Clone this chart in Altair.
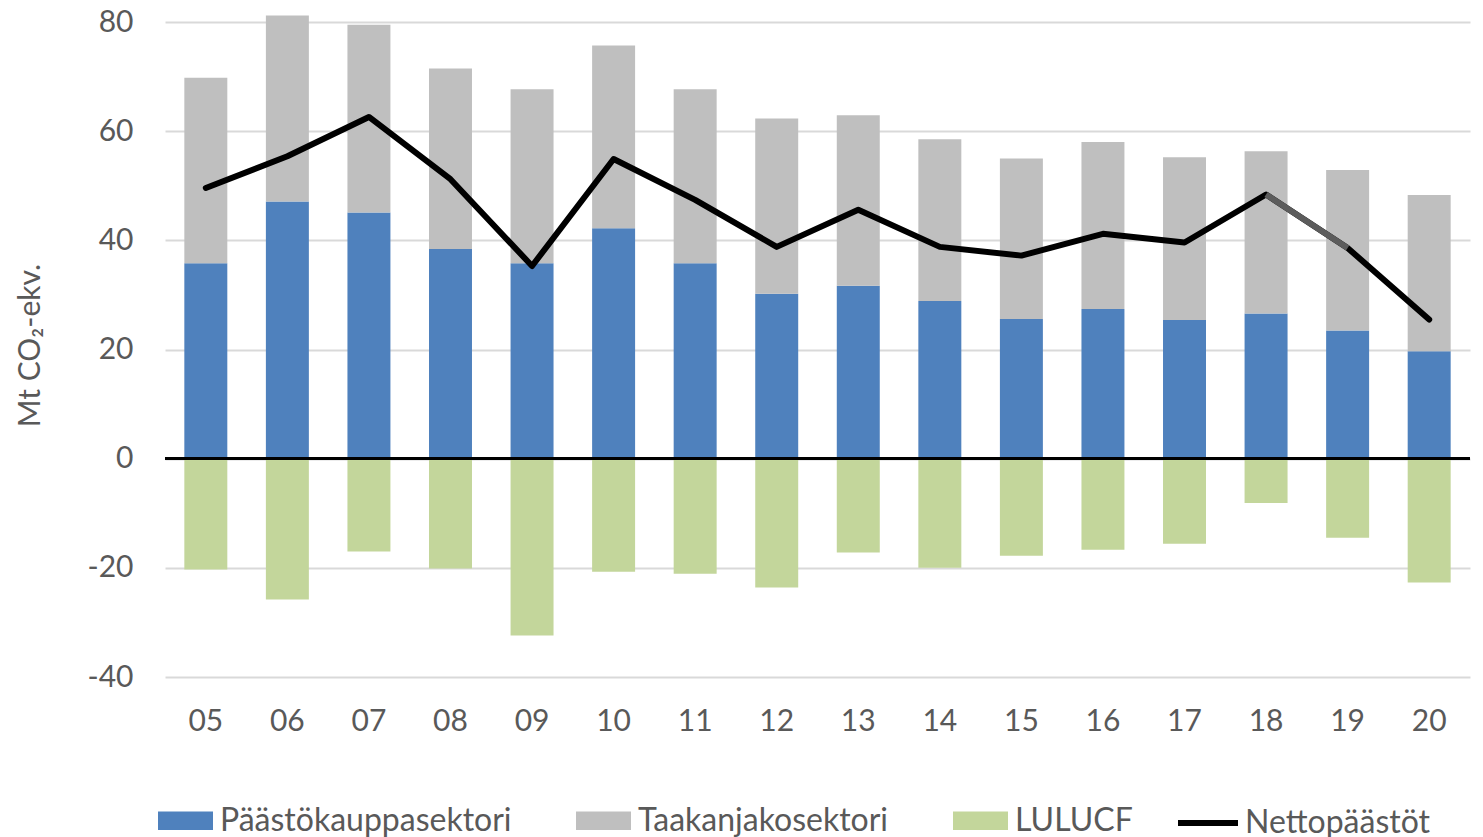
import altair as alt
import pandas as pd

years = ["05", "06", "07", "08", "09", "10", "11", "12", "13", "14", "15", "16", "17", "18", "19", "20"]
paasto = [35.8, 47.1, 45.1, 38.4, 35.8, 42.2, 35.8, 30.2, 31.7, 28.9, 25.6, 27.4, 25.4, 26.6, 23.5, 19.7]
taakan = [34.0, 34.1, 34.4, 33.1, 31.9, 33.5, 31.9, 32.1, 31.2, 29.6, 29.4, 30.6, 29.8, 29.7, 29.4, 28.6]
lulucf = [-20.3, -25.8, -17.0, -20.1, -32.4, -20.7, -21.1, -23.6, -17.2, -20.0, -17.8, -16.7, -15.6, -8.1, -14.5, -22.7]
netto = [49.6, 55.4, 62.6, 51.2, 35.3, 54.9, 47.4, 38.8, 45.6, 38.8, 37.2, 41.2, 39.6, 48.4, 38.6, 25.5]

s_names = ["Päästökauppasektori", "Taakanjakosektori", "LULUCF"]
s_colors = ["#4f81bd", "#bfbfbf", "#c3d69b"]
line_name = "Nettopäästöt"
y_ticks = [-40, -20, 0, 20, 40, 60, 80]

rows = []
for i, yr in enumerate(years):
    for k, vals in enumerate([paasto, taakan, lulucf]):
        rows.append({"year": yr, "series": s_names[k], "value": vals[i], "ord": k})
bars_df = pd.DataFrame(rows)
line_df = pd.DataFrame({"year": years, "value": netto, "series": [line_name] * len(years)})
seg_df = line_df.iloc[13:15]

FONT = "Lato"
GREY = "#595959"
FS = 30
LFS = 32

x_enc = alt.X(
    "year:N", sort=years,
    scale=alt.Scale(paddingInner=0.473, paddingOuter=0.237),
    axis=alt.Axis(title=None, labelAngle=0, labelFontSize=FS, labelColor=GREY,
                  labelPadding=29, ticks=False, domain=False, grid=False),
)
y_axis = alt.Axis(values=y_ticks, title="Mt CO₂-ekv.", grid=True, gridColor="#d9d9d9",
                  gridWidth=2, domain=False, ticks=False, labelPadding=32,
                  labelExpr="'' + datum.value",
                  labelFontSize=FS, labelColor=GREY, titleFontSize=FS,
                  titleFontWeight="normal", titleColor=GREY, titleX=-135, titleY=323,
                  titleAlign="center", titleBaseline="middle", titleAngle=270)
y_scale = alt.Scale(domain=[-40, 80], nice=False, zero=False)

bars = alt.Chart(bars_df).mark_bar().encode(
    x=x_enc,
    y=alt.Y("value:Q", stack="zero", scale=y_scale, axis=y_axis),
    color=alt.Color("series:N", scale=alt.Scale(domain=s_names, range=s_colors),
                    legend=alt.Legend(title=None, orient="none", legendX=-7, legendY=771,
                                      direction="horizontal", columns=3,
                                      symbolType="M-1,-0.34H1V0.34H-1Z", symbolSize=3025,
                                      symbolStrokeWidth=0, labelFontSize=LFS,
                                      labelColor=GREY, labelFont=FONT, labelOffset=7,
                                      labelLimit=0, columnPadding=64, padding=0)),
    order=alt.Order("ord:Q"),
)

zero = alt.Chart(bars_df).mark_rule(color="black", strokeWidth=2).encode(y=alt.datum(0))

line = alt.Chart(line_df).mark_line(strokeWidth=6, strokeCap="round", strokeJoin="round").encode(
    x=alt.X("year:N", sort=years),
    y=alt.Y("value:Q"),
    color=alt.Color("series:N", scale=alt.Scale(domain=[line_name], range=["#000000"]),
                    legend=alt.Legend(title=None, orient="none", legendX=1010, legendY=768,
                                      symbolType="stroke", symbolSize=3600,
                                      symbolStrokeWidth=6, labelFontSize=LFS,
                                      labelColor=GREY, labelFont=FONT, labelOffset=4,
                                      labelLimit=0, padding=0)),
)

seg = alt.Chart(seg_df).mark_line(strokeWidth=6, color="#5c5c5c", strokeCap="butt").encode(
    x=alt.X("year:N", sort=years),
    y=alt.Y("value:Q"),
)

chart = alt.layer(bars, zero, line, seg).resolve_scale(color="independent").properties(
    width=1305, height=655,
    autosize=alt.AutoSizeParams(type="none"),
    padding={"left": 157, "top": 14, "right": 5, "bottom": 160},
).configure_axis(labelFont=FONT, titleFont=FONT).configure_view(stroke=None)

chart.save("out.html", embed_options={"renderer": "svg", "actions": False})
